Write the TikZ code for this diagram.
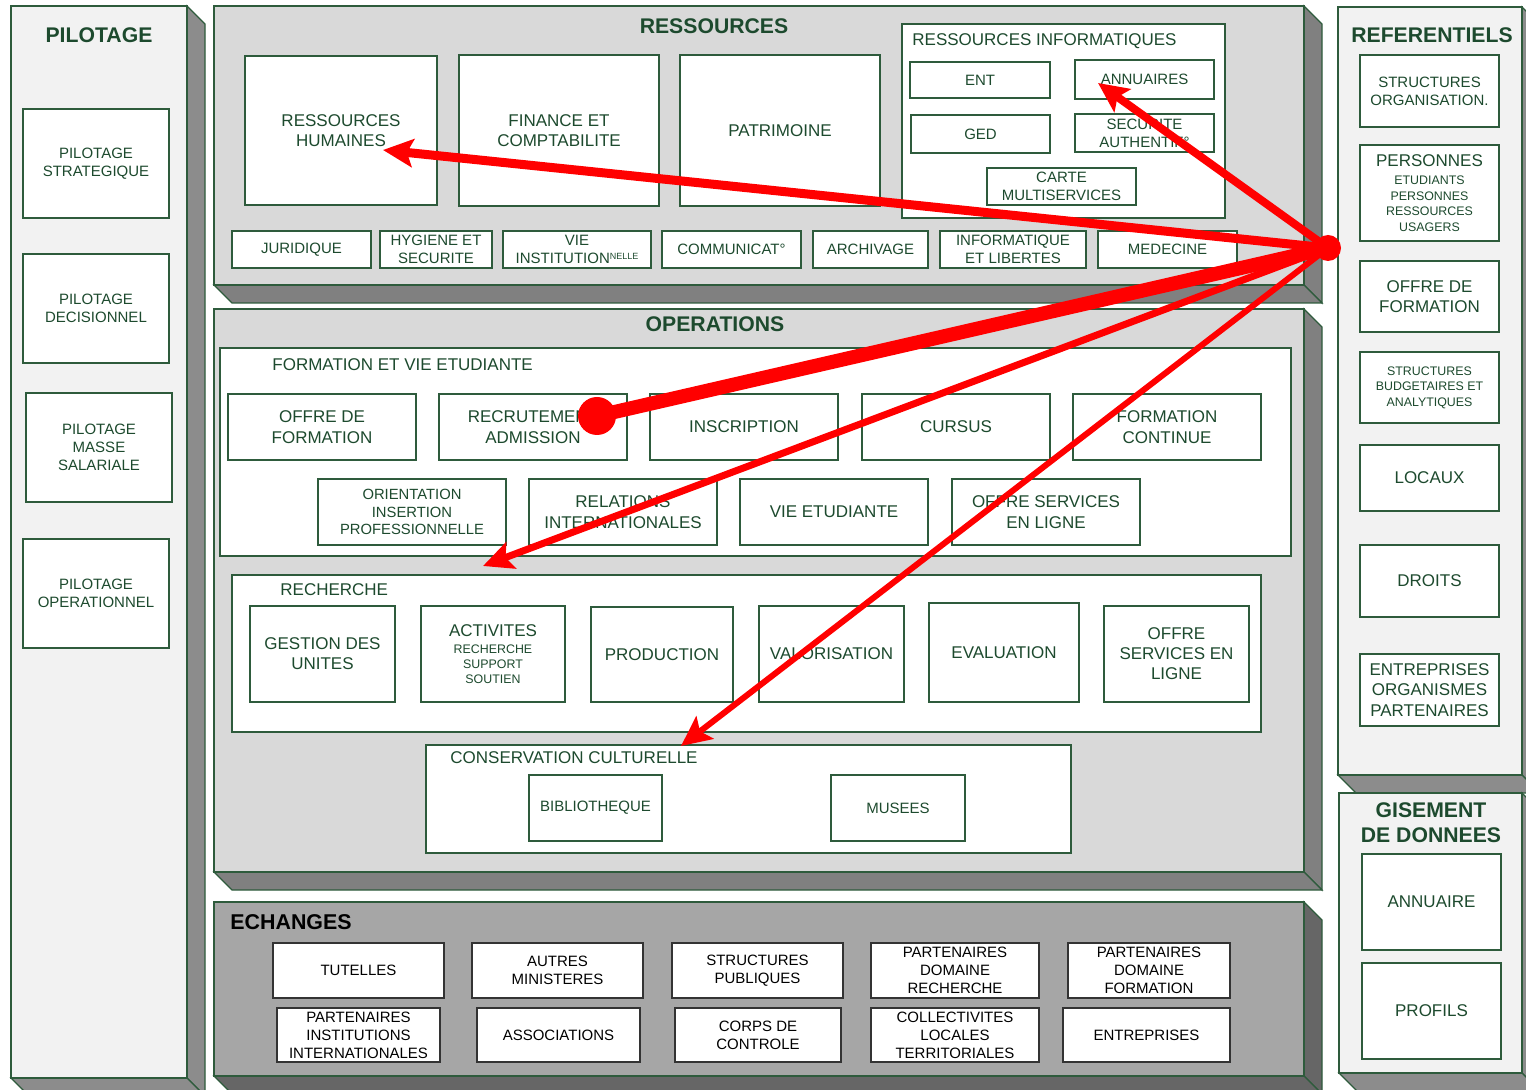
\documentclass[tikz,border=0pt]{standalone}
\usepackage{fontspec}
\setmainfont{Liberation Sans}
\usetikzlibrary{arrows.meta}
\definecolor{lgreen}{HTML}{2E5B3C}
\definecolor{tgreen}{HTML}{1D4A2E}
\definecolor{pale}{HTML}{F2F2F2}
\definecolor{midgray}{HTML}{D9D9D9}
\definecolor{dkgray}{HTML}{A6A6A6}
\definecolor{sidegray}{HTML}{8C8C8C}
\definecolor{sidemid}{HTML}{808080}
\definecolor{sidedark}{HTML}{666666}
\definecolor{flowred}{HTML}{FF0000}
\begin{document}
\begin{tikzpicture}[x=0.5pt,y=-0.5pt,
	panel/.style={draw=lgreen,line width=0.6pt},
	bx/.style={draw=lgreen,line width=0.55pt,fill=white,inner sep=0pt,align=center,text=tgreen},
	bxk/.style={draw=black!80,line width=0.55pt,fill=white,inner sep=0pt,align=center,text=black},
	ttl/.style={font=\fontsize{10.6}{12.5}\selectfont\bfseries,text=tgreen,inner sep=0pt,align=center},
	lbl/.style={anchor=base west,inner sep=0pt,text=tgreen,font=\fontsize{8.5}{10}\selectfont},
	txtbig/.style={font=\fontsize{8.5}{10.3}\selectfont},
	txtmid/.style={font=\fontsize{7.5}{9}\selectfont},
	txtsml/.style={font=\fontsize{6.2}{7.7}\selectfont},
	redline/.style={draw=flowred,line width=#1},
	redtip/.style={-{Stealth[length=15pt,width=14pt,inset=3pt]}},
	reddot/.style={circle,fill=flowred,inner sep=0pt,minimum size=#1}]
	\useasboundingbox (0,0) rectangle (1526,1090);
	% panels
	\filldraw[panel,fill=sidegray] (187,6)--(205,24)--(205,1096)--(187,1078)--cycle;
	\filldraw[panel,fill=sidegray] (11,1078)--(187,1078)--(205,1096)--(29,1096)--cycle;
	\filldraw[panel,fill=pale] (11,6) rectangle (187,1078);
	\filldraw[panel,fill=sidemid] (1304,6)--(1322,24)--(1322,303)--(1304,285)--cycle;
	\filldraw[panel,fill=sidemid] (214,285)--(1304,285)--(1322,303)--(232,303)--cycle;
	\filldraw[panel,fill=midgray] (214,6) rectangle (1304,285);
	\filldraw[panel,fill=sidemid] (1304,309)--(1322,327)--(1322,890)--(1304,872)--cycle;
	\filldraw[panel,fill=sidemid] (214,872)--(1304,872)--(1322,890)--(232,890)--cycle;
	\filldraw[panel,fill=midgray] (214,309) rectangle (1304,872);
	\filldraw[panel,fill=sidedark] (1304,902)--(1322,920)--(1322,1094)--(1304,1076)--cycle;
	\filldraw[panel,fill=sidedark] (214,1076)--(1304,1076)--(1322,1094)--(232,1094)--cycle;
	\filldraw[panel,fill=dkgray] (214,902) rectangle (1304,1076);
	\filldraw[panel,fill=sidegray] (1522,7)--(1540,25)--(1540,793)--(1522,775)--cycle;
	\filldraw[panel,fill=sidegray] (1338,775)--(1522,775)--(1540,793)--(1356,793)--cycle;
	\filldraw[panel,fill=pale] (1338,7) rectangle (1522,775);
	\filldraw[panel,fill=sidegray] (1522,793)--(1540,811)--(1540,1091)--(1522,1073)--cycle;
	\filldraw[panel,fill=sidegray] (1339,1073)--(1522,1073)--(1540,1091)--(1357,1091)--cycle;
	\filldraw[panel,fill=pale] (1339,793) rectangle (1522,1073);

	% pilotage
	\node[ttl,anchor=base] (piltitle) at (99,43) {PILOTAGE};
	\node[bx,txtmid,minimum width=73pt,minimum height=54.5pt] (pilstrat) at (96,163.5) {PILOTAGE\\STRATEGIQUE};
	\node[bx,txtmid,minimum width=73pt,minimum height=54.5pt] (pildec) at (96,308.5) {PILOTAGE\\DECISIONNEL};
	\node[bx,txtmid,minimum width=73pt,minimum height=54.5pt] (pilmasse) at (99,447.5) {PILOTAGE\\MASSE\\SALARIALE};
	\node[bx,txtmid,minimum width=73pt,minimum height=54.5pt] (pilop) at (96,593.5) {PILOTAGE\\OPERATIONNEL};

	% ressources
	\node[ttl,anchor=base] (restitle) at (714,34) {RESSOURCES};
	\node[bx,txtbig,minimum width=96pt,minimum height=74.5pt] (rh) at (341,130.5) {RESSOURCES\\HUMAINES};
	\node[bx,txtbig,minimum width=100pt,minimum height=75.5pt] (fin) at (559,130.5) {FINANCE ET\\COMPTABILITE};
	\node[bx,txtbig,minimum width=100pt,minimum height=75.5pt] (patri) at (780,130.5) {PATRIMOINE};
	\node[bx,minimum width=161.5pt,minimum height=97pt] (resinfo) at (1063.5,121) {};
	\node[lbl] (resinfotitle) at (912,46) {RESSOURCES INFORMATIQUES};
	\node[bx,txtmid,minimum width=70pt,minimum height=18pt] (ent) at (980,80) {ENT};
	\node[bx,txtmid,minimum width=69.5pt,minimum height=19.5pt] (annu) at (1144.5,79.5) {ANNUAIRES};
	\node[bx,txtmid,minimum width=69.5pt,minimum height=19pt] (ged) at (980.5,134) {GED};
	\node[bx,txtmid,minimum width=69.5pt,minimum height=19pt] (secu) at (1144.5,133) {SECURITE\\AUTHENTIF°};
	\node[bx,txtmid,minimum width=74.5pt,minimum height=18.5pt] (carte) at (1061.5,186.5) {CARTE\\MULTISERVICES};
	\node[bx,txtmid,minimum width=69.5pt,minimum height=18.5pt] (juri) at (301.5,249.5) {JURIDIQUE};
	\node[bx,txtmid,minimum width=56pt,minimum height=18.5pt] (hyg) at (436,249.5) {HYGIENE ET\\SECURITE};
	\node[bx,txtmid,minimum width=74pt,minimum height=18.5pt] (vieinst) at (577,249.5) {VIE\\INSTITUTION\raisebox{0.5ex}{\fontsize{4.5}{5}\selectfont NELLE}};
	\node[bx,txtmid,minimum width=69.5pt,minimum height=18.5pt] (comm) at (731.5,249.5) {COMMUNICAT°};
	\node[bx,txtmid,minimum width=57.5pt,minimum height=18.5pt] (archi) at (870.5,249.5) {ARCHIVAGE};
	\node[bx,txtmid,minimum width=73pt,minimum height=18.5pt] (infolib) at (1013,249.5) {INFORMATIQUE\\ET LIBERTES};
	\node[bx,txtmid,minimum width=69.5pt,minimum height=18.5pt] (medec) at (1167.5,249.5) {MEDECINE};

	% operations
	\node[ttl,anchor=base] (optitle) at (715,332) {OPERATIONS};
	\node[bx,minimum width=535.5pt,minimum height=104pt] (formvie) at (755.5,452) {};
	\node[lbl] (formvietitle) at (272,371) {FORMATION ET VIE ETUDIANTE};
	\node[bx,txtbig,minimum width=94pt,minimum height=33pt] (offform) at (322,427) {OFFRE DE\\FORMATION};
	\node[bx,txtbig,minimum width=94pt,minimum height=33pt] (recrut) at (533,427) {RECRUTEMENT\\ADMISSION};
	\node[bx,txtbig,minimum width=94pt,minimum height=33pt] (inscr) at (744,427) {INSCRIPTION};
	\node[bx,txtbig,minimum width=94pt,minimum height=33pt] (cursus) at (956,427) {CURSUS};
	\node[bx,txtbig,minimum width=94pt,minimum height=33pt] (formcont) at (1167,427) {FORMATION\\CONTINUE};
	\node[bx,font=\fontsize{7.4}{8.7}\selectfont,minimum width=94pt,minimum height=33pt] (orient) at (412,512) {ORIENTATION\\INSERTION\\PROFESSIONNELLE};
	\node[bx,txtbig,minimum width=94pt,minimum height=33pt] (relint) at (623,512) {RELATIONS\\INTERNATIONALES};
	\node[bx,txtbig,minimum width=94pt,minimum height=33pt] (vieetu) at (834,512) {VIE ETUDIANTE};
	\node[bx,txtbig,minimum width=94pt,minimum height=33pt] (offserv) at (1046,512) {OFFRE SERVICES\\EN LIGNE};
	\node[bx,minimum width=514.5pt,minimum height=78.5pt] (rech) at (746.5,653.5) {};
	\node[lbl] (rechtitle) at (280,596) {RECHERCHE};
	\node[bx,font=\fontsize{8.5}{10}\selectfont,minimum width=72.5pt,minimum height=48pt] (gestunit) at (322.5,654) {GESTION DES\\UNITES};
	\node[bx,font=\fontsize{6.2}{7.5}\selectfont,minimum width=72pt,minimum height=48pt] (activ) at (493,654) {{\fontsize{8.5}{10}\selectfont ACTIVITES}\\[1pt]RECHERCHE\\SUPPORT\\SOUTIEN};
	\node[bx,txtbig,minimum width=71pt,minimum height=47.5pt] (prod) at (662,654.5) {PRODUCTION};
	\node[bx,txtbig,minimum width=72.5pt,minimum height=48pt] (valor) at (831.5,654) {VALORISATION};
	\node[bx,txtbig,minimum width=75pt,minimum height=49.5pt] (evalu) at (1004,652.5) {EVALUATION};
	\node[bx,font=\fontsize{8.5}{10}\selectfont,minimum width=72.5pt,minimum height=48pt] (offservr) at (1176.5,654) {OFFRE\\SERVICES EN\\LIGNE};
	\node[bx,minimum width=322.5pt,minimum height=54pt] (conserv) at (748.5,799) {};
	\node[lbl] (conservtitle) at (450,763) {CONSERVATION CULTURELLE};
	\node[bx,txtmid,minimum width=66.5pt,minimum height=33pt] (biblio) at (595.5,808) {BIBLIOTHEQUE};
	\node[bx,txtmid,minimum width=67pt,minimum height=33pt] (musee) at (898,808) {MUSEES};

	% echanges
	\node[ttl,text=black,anchor=base west,font=\fontsize{10.7}{12.5}\selectfont\bfseries] (echtitle) at (230,929) {ECHANGES};
	\node[bxk,txtmid,minimum width=85.5pt,minimum height=27.5pt] (tutel) at (358.5,970.5) {TUTELLES};
	\node[bxk,txtmid,minimum width=85.5pt,minimum height=27.5pt] (autmin) at (557.5,970.5) {AUTRES\\MINISTERES};
	\node[bxk,txtmid,minimum width=85.5pt,minimum height=27.5pt] (strpub) at (757.5,970.5) {STRUCTURES\\PUBLIQUES};
	\node[bxk,txtmid,minimum width=84pt,minimum height=27.5pt] (partrech) at (955,970.5) {PARTENAIRES\\DOMAINE\\RECHERCHE};
	\node[bxk,txtmid,minimum width=81pt,minimum height=27.5pt] (partform) at (1149,970.5) {PARTENAIRES\\DOMAINE\\FORMATION};
	\node[bxk,txtmid,minimum width=81.5pt,minimum height=27pt] (partinst) at (358.5,1035) {PARTENAIRES\\INSTITUTIONS\\INTERNATIONALES};
	\node[bxk,txtmid,minimum width=81.5pt,minimum height=27pt] (assoc) at (558.5,1035) {ASSOCIATIONS};
	\node[bxk,txtmid,minimum width=83pt,minimum height=27pt] (corps) at (758,1035) {CORPS DE\\CONTROLE};
	\node[bxk,txtmid,minimum width=84pt,minimum height=27pt] (collec) at (955,1035) {COLLECTIVITES\\LOCALES\\TERRITORIALES};
	\node[bxk,txtmid,minimum width=83.5pt,minimum height=27pt] (entrep) at (1146.5,1035) {ENTREPRISES};

	% referentiels
	\node[ttl,anchor=base] (reftitle) at (1432,43) {REFERENTIELS};
	\node[bx,txtmid,minimum width=69.5pt,minimum height=36pt] (structorg) at (1429.5,91) {STRUCTURES\\ORGANISATION.};
	\node[bx,font=\fontsize{6.2}{7.7}\selectfont,minimum width=69.5pt,minimum height=48pt] (pers) at (1429.5,193) {{\fontsize{8.5}{10}\selectfont PERSONNES}\\[1.5pt]ETUDIANTS\\PERSONNES\\RESSOURCES\\USAGERS};
	\node[bx,font=\fontsize{8.5}{10}\selectfont,minimum width=69.5pt,minimum height=35.5pt] (refoff) at (1429.5,296.5) {OFFRE DE\\FORMATION};
	\node[bx,txtsml,minimum width=69.5pt,minimum height=35.5pt] (structbud) at (1429.5,387.5) {STRUCTURES\\BUDGETAIRES ET\\ANALYTIQUES};
	\node[bx,txtbig,minimum width=69.5pt,minimum height=33pt] (locaux) at (1429.5,478) {LOCAUX};
	\node[bx,txtbig,minimum width=69.5pt,minimum height=36pt] (droits) at (1429.5,581) {DROITS};
	\node[bx,txtbig,minimum width=69.5pt,minimum height=36pt] (entorg) at (1429.5,690) {ENTREPRISES\\ORGANISMES\\PARTENAIRES};

	% gisement de donnees
	\node[ttl,font=\fontsize{10.6}{12.5}\selectfont\bfseries] (gistitle) at (1431,823) {GISEMENT\\DE DONNEES};
	\node[bx,txtbig,minimum width=69.5pt,minimum height=48pt] (gisann) at (1431.5,902) {ANNUAIRE};
	\node[bx,txtbig,minimum width=69.5pt,minimum height=48pt] (gisprof) at (1431.5,1011) {PROFILS};

	% red flows
	\node[reddot=13pt] (hub) at (1328,248) {};
	\node[reddot=19pt] (recdot) at (597,416) {};
	\coordinate (rhtip) at (383,150);
	\coordinate (annutip) at (1098,83);
	\coordinate (rechtip) at (483,566);
	\coordinate (conservtip) at (681,746);
	\draw[redline=4.5pt,redtip] (hub.center) -- (rhtip);
	\draw[redline=4pt,redtip] (hub.center) -- (annutip);
	\draw[redline=7pt] (hub.center) -- (recdot.center);
	\draw[redline=3.5pt,redtip] (hub.center) -- (rechtip);
	\draw[redline=3pt,redtip] (hub.center) -- (conservtip);
\end{tikzpicture}
\end{document}
